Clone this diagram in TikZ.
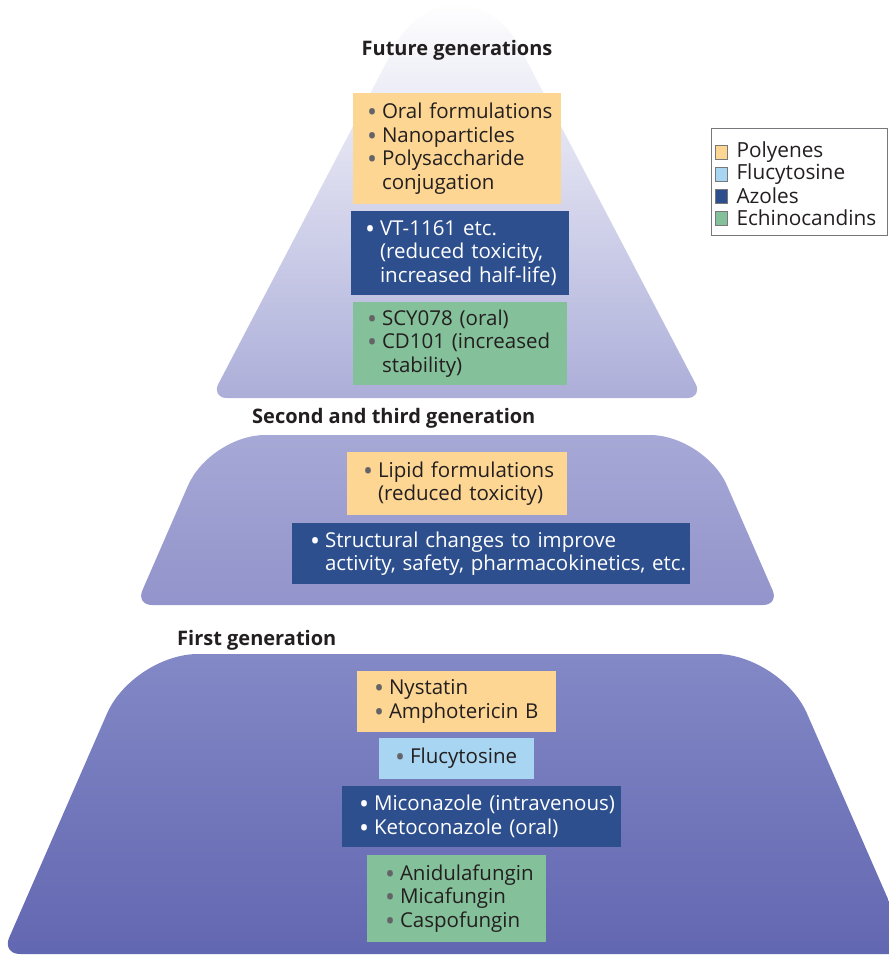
\documentclass[tikz,border=0pt]{standalone}
\usepackage{fontspec}
\setmainfont{Open Sans}
\usetikzlibrary{positioning}
\definecolor{polyfill}{RGB}{253,214,148}
\definecolor{flucfill}{RGB}{168,213,241}
\definecolor{azolefill}{RGB}{45,79,142}
\definecolor{echinofill}{RGB}{132,192,154}
\definecolor{txtdark}{RGB}{35,31,32}
\definecolor{bulgray}{RGB}{100,100,104}
\definecolor{legedge}{RGB}{120,120,124}
\definecolor{futurelav}{RGB}{172,174,217}
\definecolor{midtop}{RGB}{166,168,214}
\definecolor{midbot}{RGB}{146,148,203}
\definecolor{firsttop}{RGB}{131,136,198}
\definecolor{firstbot}{RGB}{98,103,177}
% one line of a box: bullet in grey, bullet in white, or no bullet
\newcommand{\bigdot}{\raisebox{-3pt}{\scalebox{1.3}{\textbullet}}}
\newcommand{\bitem}[1]{\mbox{\makebox[15pt][l]{\textcolor{bulgray}{\bigdot}}#1}}
\newcommand{\witem}[1]{\mbox{\makebox[15pt][l]{\bigdot}#1}}
\newcommand{\cont}[1]{\mbox{\hspace*{15pt}#1}}
\tikzset{
  genbox/.style={rectangle, inner sep=0pt, align=left,
    font=\fontsize{20.5}{23.5}\selectfont, text=txtdark},
  polybox/.style={genbox, fill=polyfill},
  flucbox/.style={genbox, fill=flucfill},
  azolebox/.style={genbox, fill=azolefill, text=white},
  echinobox/.style={genbox, fill=echinofill},
  gentitle/.style={font=\bfseries\fontsize{20}{24}\selectfont, text=txtdark, inner sep=0pt},
  legsq/.style={rectangle, draw=legedge, line width=0.6pt,
    minimum width=12pt, minimum height=14pt, inner sep=0pt},
  legtext/.style={font=\fontsize{20.8}{22}\selectfont, text=txtdark, inner sep=0pt}
}
\begin{document}
\begin{tikzpicture}[x=1pt, y=-1pt]
  \useasboundingbox (0,0) rectangle (889,956);
  % the three tiers
  \shade[top color=white, bottom color=futurelav]
    (457,398) [rounded corners=16pt] -- (211,398) [rounded corners=45pt] -- (418,2)
    -- (496,2) [rounded corners=16pt] -- (703,398) -- cycle;
  \shade[top color=midtop, bottom color=midbot]
    (457,605) [rounded corners=16pt] -- (136,605) [rounded corners=55pt] -- (210,435)
    -- (705,435) [rounded corners=16pt] -- (779,605) -- cycle;
  \shade[top color=firsttop, bottom color=firstbot]
    (457,954) [rounded corners=18pt] -- (2,954) [rounded corners=65pt] -- (133,654)
    -- (781,654) [rounded corners=18pt] -- (912,954) -- cycle;
  % titles
  \node[gentitle] (tfuture) at (457,50) {Future generations};
  \node[gentitle, anchor=west] (tsecond) at (252,418) {Second and third generation};
  \node[gentitle, anchor=west] (tfirst) at (177,640) {First generation};
  % future generations
  \node[polybox, minimum width=208pt, minimum height=111pt, text width=180pt] (poly1) at (457,148.5)
    {\bitem{Oral formulations}\\ \bitem{Nanoparticles}\\ \bitem{Polysaccharide}\\ \cont{conjugation}};
  \node[azolebox, minimum width=218pt, minimum height=84pt, text width=190pt] (azole1) at (460,253)
    {\witem{VT-1161 etc.}\\ \cont{(reduced toxicity,}\\ \cont{increased half-life)}};
  \node[echinobox, minimum width=214pt, minimum height=83pt, text width=186pt] (echino1) at (460,343.5)
    {\bitem{SCY078 (oral)}\\ \bitem{CD101 (increased}\\ \cont{stability)}};
  % second and third generation
  \node[polybox, minimum width=220pt, minimum height=63pt, text width=188pt] (poly2) at (457,483.5)
    {\bitem{Lipid formulations}\\ \cont{(reduced toxicity)}};
  \node[azolebox, minimum width=398pt, minimum height=61pt, text width=362pt] (azole2) at (491,553.5)
    {\witem{Structural changes to improve}\\ \cont{activity, safety, pharmacokinetics, etc.}};
  % first generation
  \node[polybox, minimum width=199pt, minimum height=61pt, text width=165pt] (poly3) at (456.5,701.5)
    {\bitem{Nystatin}\\ \bitem{Amphotericin B}};
  \node[flucbox, minimum width=155pt, minimum height=41pt, text width=123pt] (fluc3) at (456.5,758.5)
    {\bitem{Flucytosine}};
  \node[azolebox, minimum width=279pt, minimum height=61pt, text width=245pt] (azole3) at (481.5,816.5)
    {\witem{Miconazole (intravenous)}\\ \witem{Ketoconazole (oral)}};
  \node[echinobox, minimum width=179pt, minimum height=87pt, text width=143pt] (echino3) at (456.5,898.5)
    {\bitem{Anidulafungin}\\ \bitem{Micafungin}\\ \bitem{Caspofungin}};
  % legend
  \draw[legedge, line width=0.8pt] (711,128) rectangle (887,235);
  \node[legsq, fill=polyfill] (lpoly) at (721,152) {};
  \node[legsq, fill=flucfill] (lfluc) at (721,174) {};
  \node[legsq, fill=azolefill] (lazole) at (721,196) {};
  \node[legsq, fill=echinofill] (lechino) at (721,218) {};
  \node[legtext, right=9pt of lpoly] {Polyenes};
  \node[legtext, right=9pt of lfluc] {Flucytosine};
  \node[legtext, right=9pt of lazole] {Azoles};
  \node[legtext, right=9pt of lechino] {Echinocandins};
\end{tikzpicture}
\end{document}
